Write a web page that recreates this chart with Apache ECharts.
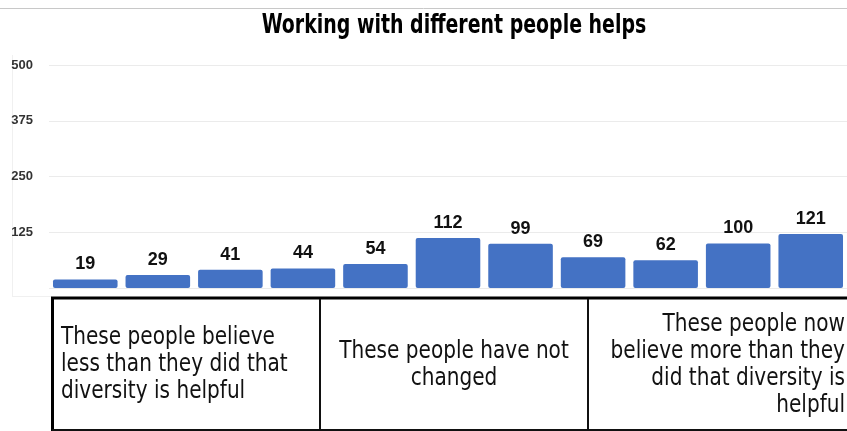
<!DOCTYPE html>
<html>
<head>
<meta charset="utf-8">
<script src="https://cdn.jsdelivr.net/npm/echarts@6/dist/echarts.min.js"></script>
<style>
  html, body { margin: 0; padding: 0; background: #fff; }
  #chart { width: 847px; height: 431px; }
</style>
</head>
<body>
<div id="chart"></div>
<script>
// data
const categories = ['1', '2', '3', '4', '5', '6', '7', '8', '9', '10', '11'];
const counts = [19, 29, 41, 44, 54, 112, 99, 69, 62, 100, 121];
const yTicks = [0, 125, 250, 375, 500];
const titleText = 'Working with different people helps';
const groupLabels = [
    'These people believe\nless than they did that\ndiversity is helpful',
    'These people have not\nchanged',
    'These people now\nbelieve more than they\ndid that diversity is\nhelpful'
];

const narrow = '"DejaVu Sans Condensed", "Liberation Sans Narrow", sans-serif';

const chart = echarts.init(document.getElementById('chart'));

// box under the bars, split in three cells
const cells = [
    { x: 53, align: 'left', tx: 61 },
    { x: 320, align: 'center', tx: 454 },
    { x: 588, align: 'right', tx: 845 }
];
const graphics = [];
// faint frame
graphics.push({ type: 'line', shape: { x1: 0, y1: 8.5, x2: 847, y2: 8.5 }, style: { stroke: '#c8c8c8', lineWidth: 1 } });
graphics.push({ type: 'line', shape: { x1: 12.5, y1: 55, x2: 12.5, y2: 297 }, style: { stroke: '#f0f0f0', lineWidth: 1 } });
graphics.push({ type: 'line', shape: { x1: 12, y1: 296.5, x2: 52, y2: 296.5 }, style: { stroke: '#f0f0f0', lineWidth: 1 } });
// title, squeezed to look like the condensed face
graphics.push({
    type: 'text',
    x: 454,
    y: 13,
    scaleX: 0.81,
    style: {
        text: titleText,
        font: 'bold 26px ' + narrow,
        fill: '#000',
        align: 'center',
        verticalAlign: 'top'
    }
});
// box edges
graphics.push({ type: 'line', shape: { x1: 51, y1: 298, x2: 847, y2: 298 }, style: { stroke: '#000', lineWidth: 3 } });
graphics.push({ type: 'line', shape: { x1: 52.5, y1: 297, x2: 52.5, y2: 431 }, style: { stroke: '#000', lineWidth: 3 } });
graphics.push({ type: 'line', shape: { x1: 52, y1: 430, x2: 847, y2: 430 }, style: { stroke: '#111', lineWidth: 2 } });
cells.forEach((c, i) => {
    if (i > 0) {
        graphics.push({ type: 'line', shape: { x1: c.x, y1: 299, x2: c.x, y2: 431 }, style: { stroke: '#111', lineWidth: 2 } });
    }
    graphics.push({
        type: 'text',
        x: c.tx,
        y: 365,
        scaleX: 0.93,
        style: {
            text: groupLabels[i],
            font: '24px ' + narrow,
            fill: '#111',
            align: c.align,
            verticalAlign: 'middle',
            lineHeight: 27
        }
    });
});

const option = {
    animation: false,
    grid: { left: 49, right: -10.5, top: 65, bottom: 143 },
    xAxis: {
        type: 'category',
        data: categories,
        axisLine: { show: false },
        axisTick: { show: false },
        axisLabel: { show: false }
    },
    yAxis: {
        type: 'value',
        min: yTicks[0],
        max: yTicks[yTicks.length - 1],
        interval: yTicks[1] - yTicks[0],
        axisLine: { show: false },
        axisTick: { show: false },
        splitLine: { lineStyle: { color: '#ebebeb', width: 1 } },
        axisLabel: {
            margin: 16,
            fontFamily: 'Liberation Sans, Arial, sans-serif',
            fontWeight: 'bold',
            fontSize: 13,
            color: '#333',
            formatter: v => (v === 0 ? '' : String(v))
        }
    },
    series: [{
        type: 'bar',
        data: counts,
        barCategoryGap: '11%',
        itemStyle: { color: '#4472C4', borderRadius: 2 },
        label: {
            show: true,
            position: 'top',
            distance: 6,
            fontFamily: 'Liberation Sans, Arial, sans-serif',
            fontWeight: 'bold',
            fontSize: 18,
            color: '#111'
        }
    }],
    graphic: graphics
};

chart.setOption(option);
</script>
</body>
</html>
